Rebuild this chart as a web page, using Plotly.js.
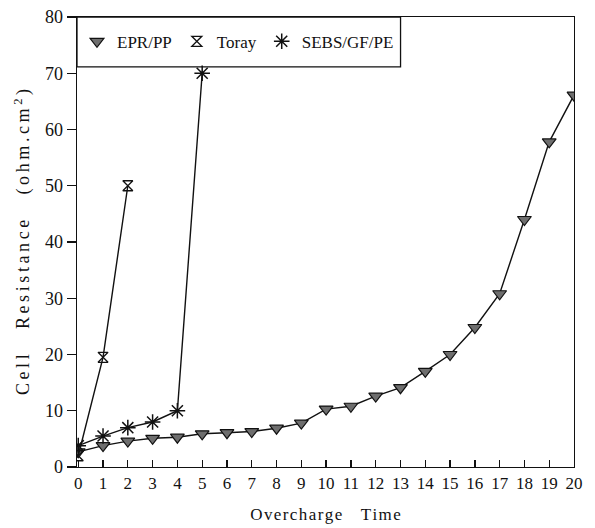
<!DOCTYPE html>
<html>
<head>
<meta charset="utf-8">
<script src="https://cdn.plot.ly/plotly-3.0.1.min.js"></script>
<style>html,body{margin:0;padding:0;background:#fff;}#chart{width:595px;height:528px;}</style>
</head>
<body>
<div id="chart"></div>
<script>
// Data
const overchargeTime = [0,1,2,3,4,5,6,7,8,9,10,11,12,13,14,15,16,17,18,19,20];
const eprPP = [2.7,3.8,4.6,5.1,5.3,5.9,6.1,6.3,6.9,7.8,10.3,10.8,12.6,14.1,17,20,24.8,30.8,44,57.8,66.1];
const torayTime = [0,1,2];
const toray = [2,19.5,50];
const sebsTime = [0,1,2,3,4,5];
const sebsGFPE = [3.8,5.5,7,8,10,70];
const seriesNames = ['EPR/PP','Toray','SEBS/GF/PE'];
const xTicks = overchargeTime;
const yTicks = [0,10,20,30,40,50,60,70,80];

const FONT = '"Liberation Serif", "Times New Roman", serif';
function spaced(word, gap){ return word.split('').join(gap); }
const HS = '\u200A', TS = '\u2009';
const xTitle = spaced('Overcharge', HS) + '\u2003' + HS + spaced('Time', HS);
const yTitle = spaced('Cell', TS) + TS + '\u2003' + TS + spaced('Resistance', TS) + TS + '\u2003' + TS +
  spaced('(ohm.cm', TS) + TS + '<sup>2</sup>' + TS + ')';

const eprMarker = {symbol:'triangle-down', size:12, color:'#6e6e6e', line:{color:'#111', width:1.2}};
const torayMarker = {symbol:'hourglass-open', size:10, color:'#111', line:{color:'#111', width:1.3}};
const sebsMarker = {symbol:'asterisk-open', size:13, color:'#111', line:{color:'#111', width:1.5}};
const lineStyle = {color:'#111', width:1.4};

const traces = [
  {x: overchargeTime, y: eprPP, mode:'lines+markers', line: lineStyle, marker: eprMarker, showlegend:false, name: seriesNames[0]},
  {x: torayTime, y: toray, mode:'lines+markers', line: lineStyle, marker: torayMarker, showlegend:false, name: seriesNames[1]},
  {x: sebsTime, y: sebsGFPE, mode:'lines+markers', line: lineStyle, marker: sebsMarker, showlegend:false, name: seriesNames[2]},
  {x:[null], y:[null], mode:'markers', marker: eprMarker, name: seriesNames[0]},
  {x:[null], y:[null], mode:'markers', marker: torayMarker, name: seriesNames[1]},
  {x:[null], y:[null], mode:'markers', marker: sebsMarker, name: seriesNames[2]}
];

const layout = {
  width:595, height:528,
  margin:{l:77, r:21, t:17, b:61},
  paper_bgcolor:'#fff', plot_bgcolor:'#fff',
  font:{family: FONT, color:'#111', size:17},
  showlegend:true,
  legend:{x:0.0, y:0.945, xanchor:'left', yanchor:'middle', orientation:'h',
    bgcolor:'rgba(0,0,0,0)', borderwidth:0, font:{family:FONT, size:17, color:'#111'},
    itemwidth:30, itemclick:false},
  shapes:[{type:'rect', xref:'paper', yref:'paper', x0:0, x1:0.651, y0:0.889, y1:1,
    line:{color:'#111', width:1.3}, fillcolor:'rgba(0,0,0,0)', layer:'above'}],
  xaxis:{range:[-0.05,20], tickmode:'array', tickvals:xTicks, ticktext:xTicks.map(String),
    ticks:'inside', ticklen:7, tickwidth:1.3, tickcolor:'#111',
    showline:true, mirror:true, linecolor:'#111', linewidth:1.4,
    showgrid:false, zeroline:false, tickfont:{family:FONT, size:17},
    title:{text:xTitle, font:{family:FONT, size:17}, standoff:16}},
  yaxis:{range:[0,80], tickmode:'array', tickvals:yTicks, ticktext:yTicks.map(String),
    ticks:'outside', ticklen:9, tickwidth:1.3, tickcolor:'#111',
    showline:true, mirror:true, linecolor:'#111', linewidth:1.4,
    showgrid:false, zeroline:false, tickfont:{family:FONT, size:18},
    title:{text:yTitle, font:{family:FONT, size:18}, standoff:10}}
};

Plotly.newPlot('chart', traces, layout, {staticPlot:true, displayModeBar:false});
</script>
</body>
</html>
